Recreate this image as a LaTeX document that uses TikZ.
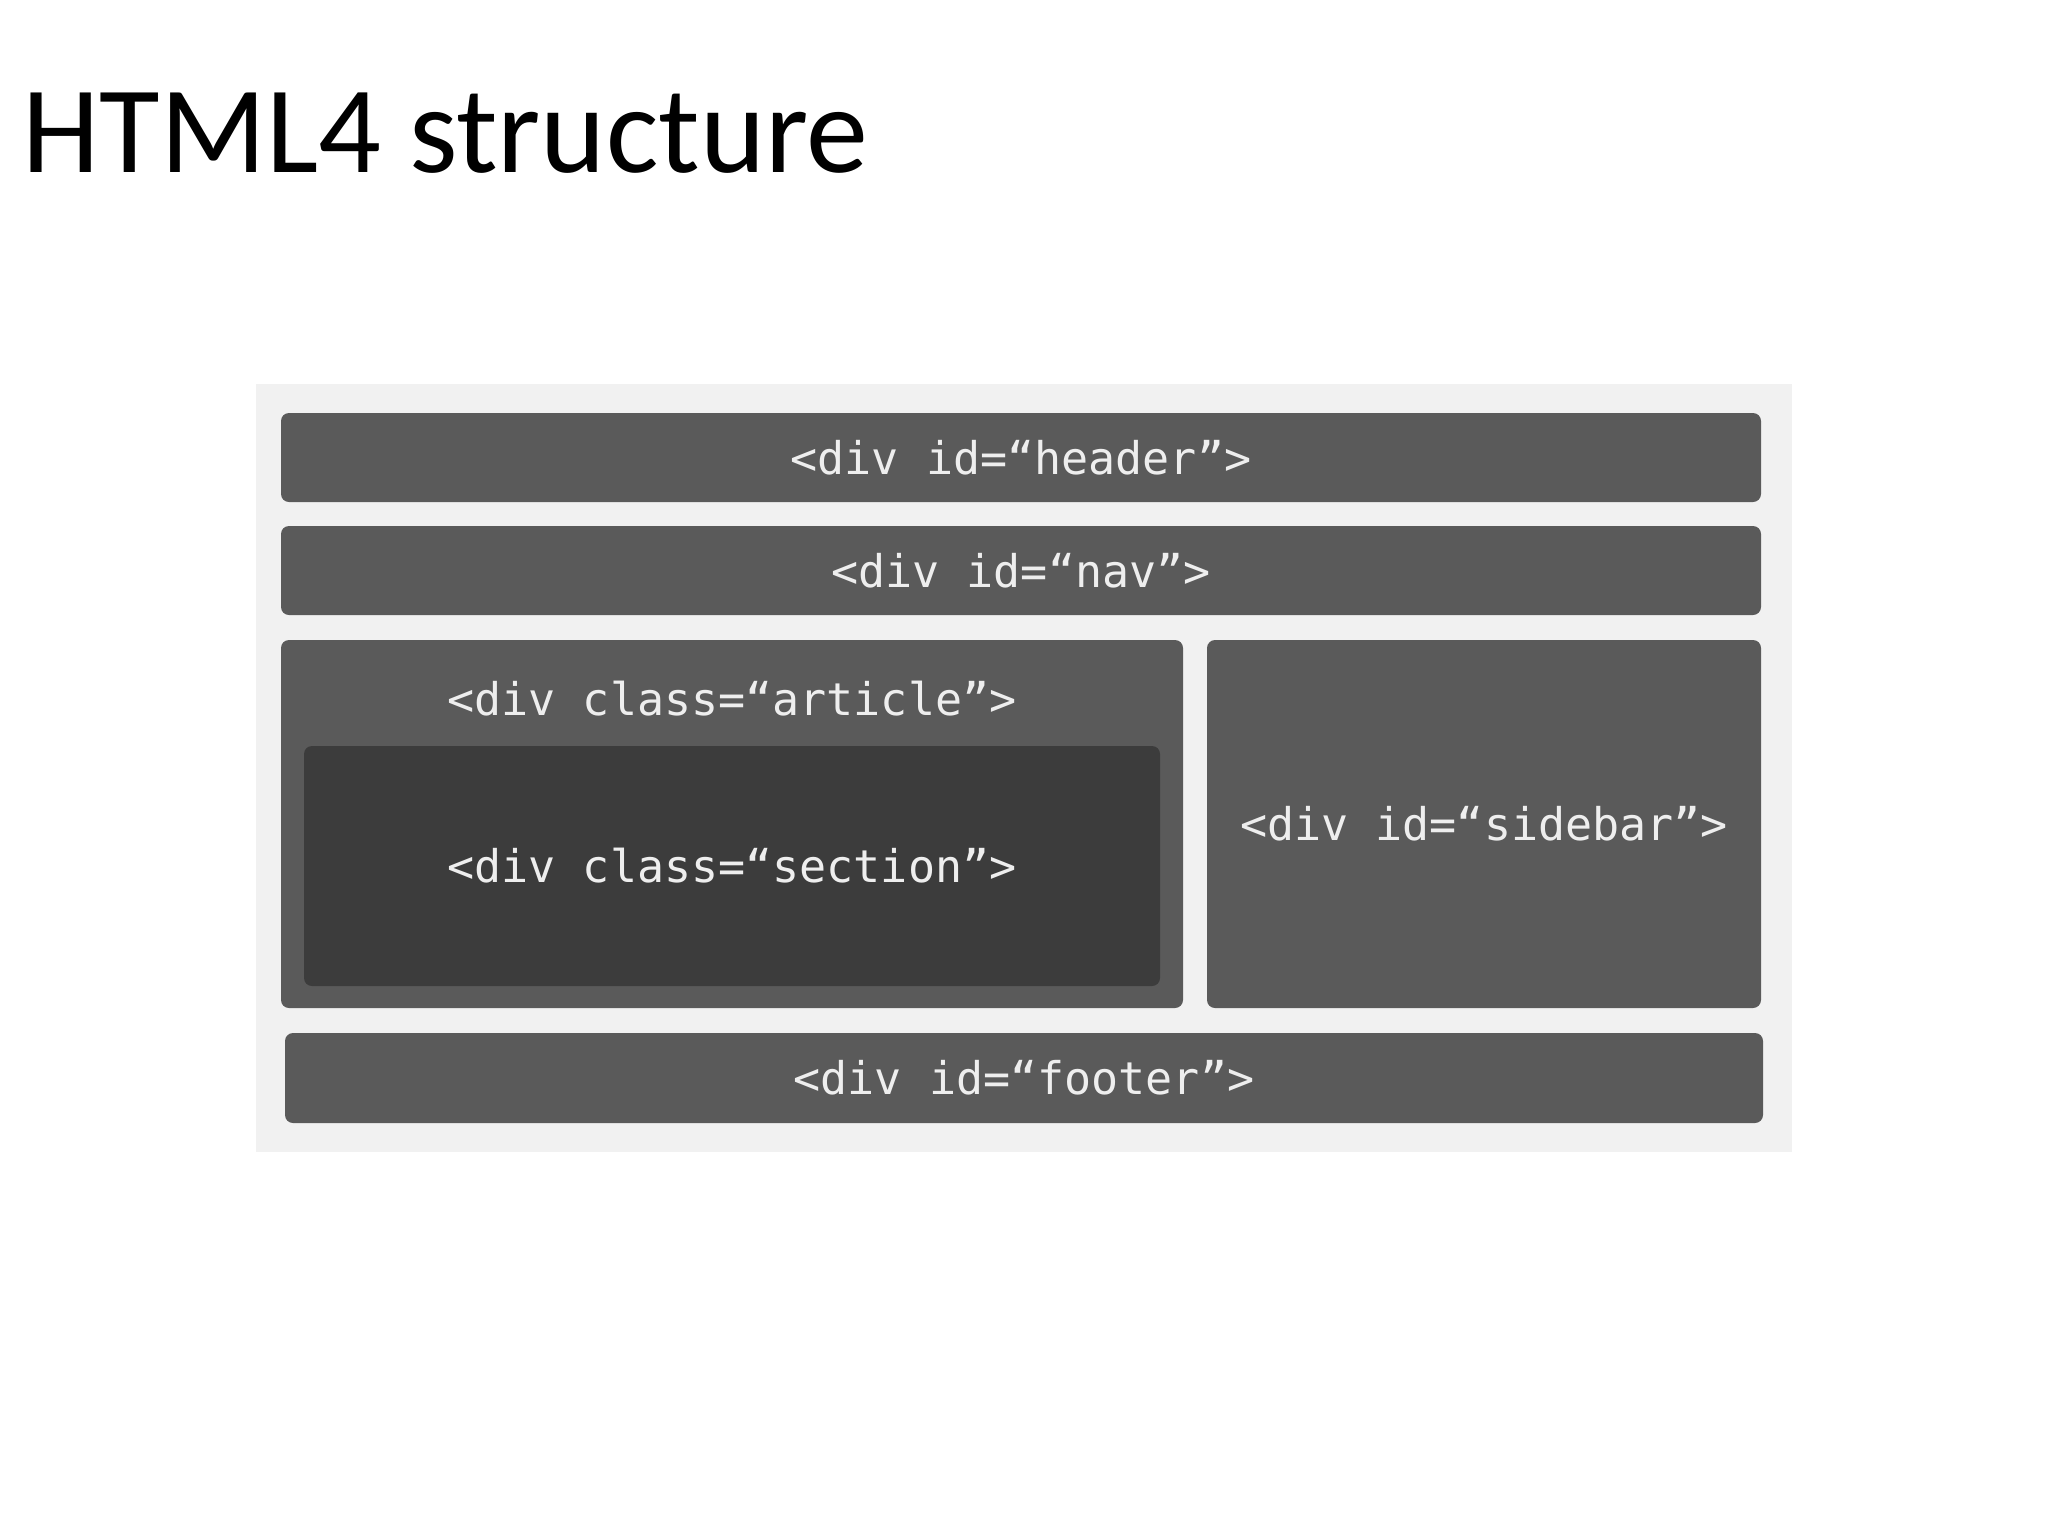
\documentclass[tikz,border=0pt]{standalone}
\usepackage{fontspec}
\setmainfont{Carlito}
\newfontfamily\codefont{DejaVu Sans Mono}
\definecolor{divgray}{HTML}{5A5A5A}
\definecolor{secgray}{HTML}{3C3C3C}
\definecolor{panelgray}{HTML}{F1F1F1}
\definecolor{codetext}{HTML}{EEEEEE}

\begin{document}
\begin{tikzpicture}[x=0.5pt,y=-0.5pt,
  divbox/.style={fill=divgray,rounded corners=4pt,inner sep=0pt,text=codetext,
    font=\codefont\fontsize{22.5}{27}\selectfont},
  divlabel/.style={inner sep=0pt,text=codetext,font=\codefont\fontsize{22.5}{27}\selectfont}]
  \useasboundingbox (0,0) rectangle (2048,1536);
  \node[anchor=base west,inner sep=0pt,font=\fontsize{62}{74}\selectfont] (title) at (22,172) {HTML4 structure};
  \node[fill=panelgray,minimum width=768pt,minimum height=384pt,inner sep=0pt] (page) at (1024,768) {};
  % rows
  \node[divbox,minimum width=740pt,minimum height=44.5pt] (header) at (1021,457.5) {<div id=“header”>};
  \node[divbox,minimum width=740pt,minimum height=44.5pt] (nav) at (1021,570.5) {<div id=“nav”>};
  \node[divbox,minimum width=451pt,minimum height=184pt] (article) at (732,824) {};
  \node[divlabel] (articlelabel) at (732,699) {<div class=“article”>};
  \node[divbox,fill=secgray,minimum width=428pt,minimum height=120pt] (section) at (732,866) {<div class=“section”>};
  \node[divbox,minimum width=277pt,minimum height=184pt] (sidebar) at (1484,824) {<div id=“sidebar”>};
  \node[divbox,minimum width=739pt,minimum height=45pt] (footer) at (1024,1078) {<div id=“footer”>};
\end{tikzpicture}
\end{document}
